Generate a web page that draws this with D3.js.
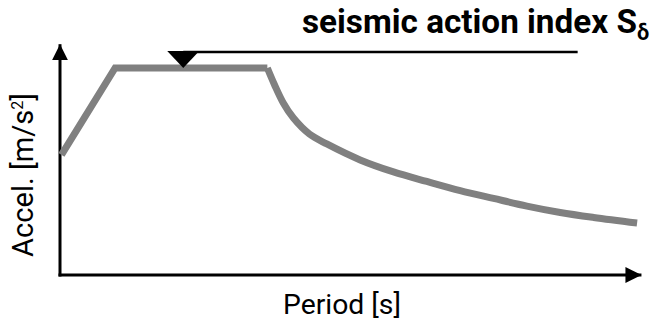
<!DOCTYPE html>
<head>
  <meta charset="utf-8">
  <style>
    body { margin: 0; background: #fff; }
    text { font-family: Roboto, 'Open Sans', sans-serif; fill: #000; }
  </style>
</head>
<body>
  <script src="https://cdn.jsdelivr.net/npm/d3@7"></script>
  <script>
    // response spectrum (period [s], accel relative to plateau)
    const rampT = [0.01, 0.38, 1.43];
    const rampA = [0.58, 1.0, 1.0];
    const decayT = [1.43, 1.48, 1.54, 1.61, 1.72, 1.84, 2.07, 2.30, 2.53, 2.76, 2.99, 3.22, 3.45, 3.68, 3.98];
    const decayA = [1.0, 0.918, 0.831, 0.758, 0.681, 0.633, 0.556, 0.498, 0.452, 0.408, 0.370, 0.333, 0.302, 0.278, 0.251];
    // index marker on plateau and leader line end
    const markerT = 0.85;
    const markerA = 1.0;
    const leaderEndT = 3.57;
    const axisMaxT = 4.01;
    const axisMaxA = 1.115;
    const titleText = "seismic action index S";
    const titleSub = "δ";
    const xLabel = "Period [s]";
    const yLabel = "Accel. [m/s";

    const width = 651, height = 323;
    const x = d3.scaleLinear().domain([0, 4]).range([60, 640]);
    const y = d3.scaleLinear().domain([0, 1]).range([275, 68]);

    const svg = d3.select("body").append("svg")
      .attr("width", width).attr("height", height);

    const defs = svg.append("defs");
    defs.append("marker")
      .attr("id", "arrow")
      .attr("markerUnits", "userSpaceOnUse")
      .attr("viewBox", "0 0 16 16")
      .attr("refX", 16).attr("refY", 8)
      .attr("markerWidth", 16).attr("markerHeight", 16)
      .attr("orient", "auto")
      .append("path").attr("d", "M0,0 L16,8 L0,16 Z").attr("fill", "#000");

    // axes
    svg.append("line")
      .attr("x1", x(0)).attr("y1", y(0) + 1.5)
      .attr("x2", x(0)).attr("y2", y(axisMaxA))
      .attr("stroke", "#000").attr("stroke-width", 3)
      .attr("marker-end", "url(#arrow)");
    svg.append("line")
      .attr("x1", x(0) - 1.5).attr("y1", y(0))
      .attr("x2", x(axisMaxT)).attr("y2", y(0))
      .attr("stroke", "#000").attr("stroke-width", 3)
      .attr("marker-end", "url(#arrow)");

    // spectrum
    const ramp = rampT.map((t, i) => [t, rampA[i]]);
    const decay = decayT.map((t, i) => [t, decayA[i]]);
    svg.append("path")
      .attr("d", d3.line().x(d => x(d[0])).y(d => y(d[1]))(ramp))
      .attr("fill", "none").attr("stroke", "#808080").attr("stroke-width", 7)
      .attr("stroke-linejoin", "miter");
    svg.append("path")
      .attr("d", d3.line().curve(d3.curveCatmullRom.alpha(0.5)).x(d => x(d[0])).y(d => y(d[1]))(decay))
      .attr("fill", "none").attr("stroke", "#808080").attr("stroke-width", 7);

    // index marker + leader line
    const mx = x(markerT), my = y(markerA);
    svg.append("line")
      .attr("x1", mx).attr("y1", my - 16)
      .attr("x2", x(leaderEndT)).attr("y2", my - 16)
      .attr("stroke", "#000").attr("stroke-width", 2.5);
    svg.append("path")
      .attr("d", `M${mx - 16},${my - 17} L${mx + 16},${my - 17} L${mx},${my} Z`)
      .attr("fill", "#000");

    // scale a text's font so it spans the given width
    function fit(sel, target) {
      const fs = +sel.attr("font-size");
      const w = sel.node().getComputedTextLength();
      sel.attr("font-size", fs * target / w);
    }

    // title
    const title = svg.append("text")
      .attr("x", 302).attr("y", 33)
      .attr("font-size", 28).attr("font-weight", "bold")
      .text(titleText);
    fit(title, 335);
    const tfs = +title.attr("font-size");
    title.append("tspan").attr("font-size", tfs * 0.65).attr("dy", tfs * 0.22).text(titleSub);

    // axis labels
    const xl = svg.append("text")
      .attr("x", 342).attr("y", 314)
      .attr("text-anchor", "middle").attr("font-size", 24)
      .text(xLabel);
    fit(xl, 118);

    const yl = svg.append("text")
      .attr("transform", "translate(33,175) rotate(-90)")
      .attr("text-anchor", "middle").attr("font-size", 24)
      .text(yLabel);
    yl.append("tspan").attr("font-size", 16).attr("dy", -10).text("2");
    yl.append("tspan").attr("dy", 10).text("]");
    fit(yl, 166);
  </script>
</body>
